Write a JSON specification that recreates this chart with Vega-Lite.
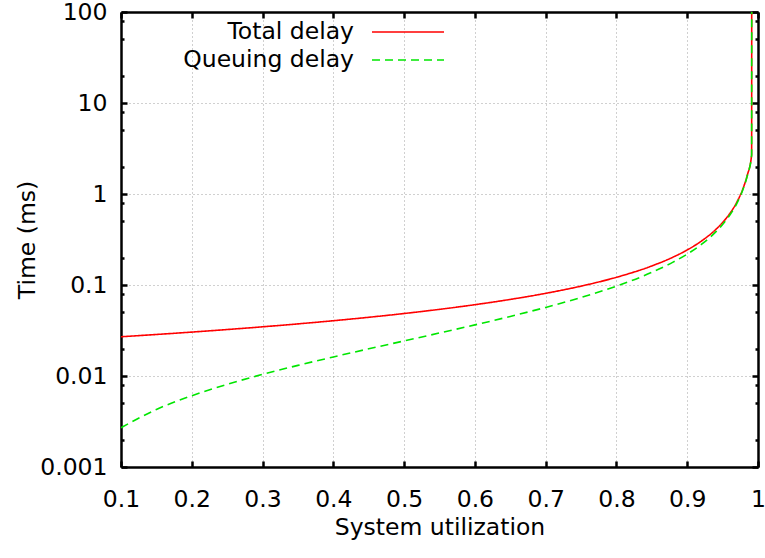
{
  "$schema": "https://vega.github.io/schema/vega-lite/v6.json",
  "autosize": {"type": "none"},
  "padding": {"left": 121, "top": 12, "right": 7, "bottom": 91},
  "width": 637,
  "height": 455,
  "background": "white",
  "config": {
    "font": "DejaVu Sans",
    "view": {"stroke": null},
    "axis": {
      "domainColor": "black",
      "domainWidth": 2.5,
      "tickColor": "black",
      "tickWidth": 2.5,
      "labelColor": "black",
      "labelFontSize": 23.5,
      "labelFont": "DejaVu Sans",
      "titleFont": "DejaVu Sans",
      "titleFontSize": 23.5,
      "titleFontWeight": "normal",
      "titleColor": "black",
      "labelFlush": false,
      "labelOverlap": false,
      "gridColor": "#a0a0a0",
      "gridDash": [1, 3],
      "gridWidth": 1
    }
  },
  "data": {
    "values": [
      {"u": 0.1, "series": "Total delay", "t": 0.027},
      {"u": 0.15, "series": "Total delay", "t": 0.02859},
      {"u": 0.2, "series": "Total delay", "t": 0.030375},
      {"u": 0.25, "series": "Total delay", "t": 0.0324},
      {"u": 0.3, "series": "Total delay", "t": 0.034714},
      {"u": 0.35, "series": "Total delay", "t": 0.037385},
      {"u": 0.4, "series": "Total delay", "t": 0.0405},
      {"u": 0.45, "series": "Total delay", "t": 0.044182},
      {"u": 0.5, "series": "Total delay", "t": 0.0486},
      {"u": 0.55, "series": "Total delay", "t": 0.054},
      {"u": 0.6, "series": "Total delay", "t": 0.06075},
      {"u": 0.65, "series": "Total delay", "t": 0.069429},
      {"u": 0.7, "series": "Total delay", "t": 0.081},
      {"u": 0.75, "series": "Total delay", "t": 0.0972},
      {"u": 0.8, "series": "Total delay", "t": 0.1215},
      {"u": 0.85, "series": "Total delay", "t": 0.162},
      {"u": 0.88, "series": "Total delay", "t": 0.2025},
      {"u": 0.9, "series": "Total delay", "t": 0.243},
      {"u": 0.92, "series": "Total delay", "t": 0.30375},
      {"u": 0.94, "series": "Total delay", "t": 0.405},
      {"u": 0.95, "series": "Total delay", "t": 0.486},
      {"u": 0.96, "series": "Total delay", "t": 0.6075},
      {"u": 0.97, "series": "Total delay", "t": 0.81},
      {"u": 0.98, "series": "Total delay", "t": 1.215},
      {"u": 0.985, "series": "Total delay", "t": 1.62},
      {"u": 0.991, "series": "Total delay", "t": 2.7},
      {"u": 0.9912, "series": "Total delay", "t": 10000},
      {"u": 0.1, "series": "Queuing delay", "t": 0.0027},
      {"u": 0.15, "series": "Queuing delay", "t": 0.004288},
      {"u": 0.2, "series": "Queuing delay", "t": 0.006075},
      {"u": 0.25, "series": "Queuing delay", "t": 0.0081},
      {"u": 0.3, "series": "Queuing delay", "t": 0.010414},
      {"u": 0.35, "series": "Queuing delay", "t": 0.013085},
      {"u": 0.4, "series": "Queuing delay", "t": 0.0162},
      {"u": 0.45, "series": "Queuing delay", "t": 0.019882},
      {"u": 0.5, "series": "Queuing delay", "t": 0.0243},
      {"u": 0.55, "series": "Queuing delay", "t": 0.0297},
      {"u": 0.6, "series": "Queuing delay", "t": 0.03645},
      {"u": 0.65, "series": "Queuing delay", "t": 0.045129},
      {"u": 0.7, "series": "Queuing delay", "t": 0.0567},
      {"u": 0.75, "series": "Queuing delay", "t": 0.0729},
      {"u": 0.8, "series": "Queuing delay", "t": 0.0972},
      {"u": 0.85, "series": "Queuing delay", "t": 0.1377},
      {"u": 0.88, "series": "Queuing delay", "t": 0.1782},
      {"u": 0.9, "series": "Queuing delay", "t": 0.2187},
      {"u": 0.92, "series": "Queuing delay", "t": 0.27945},
      {"u": 0.94, "series": "Queuing delay", "t": 0.3807},
      {"u": 0.95, "series": "Queuing delay", "t": 0.4617},
      {"u": 0.96, "series": "Queuing delay", "t": 0.5832},
      {"u": 0.97, "series": "Queuing delay", "t": 0.7857},
      {"u": 0.98, "series": "Queuing delay", "t": 1.1907},
      {"u": 0.985, "series": "Queuing delay", "t": 1.5957},
      {"u": 0.991, "series": "Queuing delay", "t": 2.6757},
      {"u": 0.9912, "series": "Queuing delay", "t": 10000}
    ]
  },
  "layer": [
    {
      "mark": {"type": "line", "clip": true, "strokeWidth": 1.6, "interpolate": "monotone"},
      "encoding": {
        "x": {
          "field": "u", "type": "quantitative",
          "scale": {"domain": [0.1, 1], "nice": false, "zero": false},
          "axis": {
            "orient": "bottom",
            "title": "System utilization",
            "values": [0.1, 0.2, 0.3, 0.4, 0.5, 0.6, 0.7, 0.8, 0.9, 1],
            "format": "~g",
            "tickSize": -6,
            "labelPadding": 26.5,
            "titleX": 318.5,
            "titleY": 67,
            "titleBaseline": "alphabetic",
            "titleAlign": "center",
            "grid": true
          }
        },
        "y": {
          "field": "t", "type": "quantitative",
          "scale": {"type": "log", "domain": [0.001, 100], "nice": false},
          "axis": {
            "orient": "left",
            "title": "Time (ms)",
            "values": [0.001, 0.002, 0.005, 0.008, 0.01, 0.02, 0.05, 0.08, 0.1, 0.2, 0.5, 0.8, 1, 2, 5, 8, 10, 20, 50, 80, 100],
            "labelExpr": "abs(log(datum.value)/LN10 - round(log(datum.value)/LN10)) < 0.000001 ? toString(datum.value) : ''",
            "tickSize": {"condition": {"test": "abs(log(datum.value)/LN10 - round(log(datum.value)/LN10)) < 0.000001", "value": -6}, "value": -3},
            "gridOpacity": {"condition": {"test": "abs(log(datum.value)/LN10 - round(log(datum.value)/LN10)) < 0.000001", "value": 1}, "value": 0},
            "labelPadding": 20,
            "titleX": -94,
            "titleY": 227.5,
            "titleAngle": 270,
            "titleBaseline": "middle",
            "titleAlign": "center",
            "grid": true
          }
        },
        "color": {
          "field": "series", "type": "nominal",
          "scale": {"domain": ["Total delay", "Queuing delay"], "range": ["#ff0000", "#00e600"]},
          "legend": {
            "title": null,
            "orient": "none",
            "legendX": 274,
            "legendY": 7,
            "padding": 0,
            "symbolType": "M-3,0H3",
            "symbolSize": 576,
            "symbolStrokeWidth": 1.6,
            "labelFontSize": 23.5,
            "labelFont": "DejaVu Sans",
            "labelColor": "black",
            "labelAlign": "right",
            "labelOffset": -67,
            "labelLimit": 400,
            "rowPadding": 3
          }
        },
        "strokeDash": {
          "field": "series", "type": "nominal",
          "scale": {"domain": ["Total delay", "Queuing delay"], "range": [[1, 0], [8, 5]]},
          "legend": null
        }
      }
    },
    {
      "mark": {"type": "line", "clip": true, "opacity": 0},
      "encoding": {
        "x": {
          "field": "u", "type": "quantitative",
          "scale": {"domain": [0.1, 1], "nice": false, "zero": false},
          "axis": {
            "orient": "top",
            "title": null,
            "values": [0.1, 0.2, 0.3, 0.4, 0.5, 0.6, 0.7, 0.8, 0.9, 1],
            "labels": false,
            "tickSize": -6,
            "grid": false
          }
        },
        "y": {
          "field": "t", "type": "quantitative",
          "scale": {"type": "log", "domain": [0.001, 100], "nice": false},
          "axis": {
            "orient": "right",
            "title": null,
            "values": [0.001, 0.002, 0.005, 0.008, 0.01, 0.02, 0.05, 0.08, 0.1, 0.2, 0.5, 0.8, 1, 2, 5, 8, 10, 20, 50, 80, 100],
            "labels": false,
            "tickSize": {"condition": {"test": "abs(log(datum.value)/LN10 - round(log(datum.value)/LN10)) < 0.000001", "value": -6}, "value": -3},
            "grid": false
          }
        },
        "detail": {"field": "series", "type": "nominal"}
      }
    }
  ],
  "resolve": {"axis": {"x": "independent", "y": "independent"}}
}
